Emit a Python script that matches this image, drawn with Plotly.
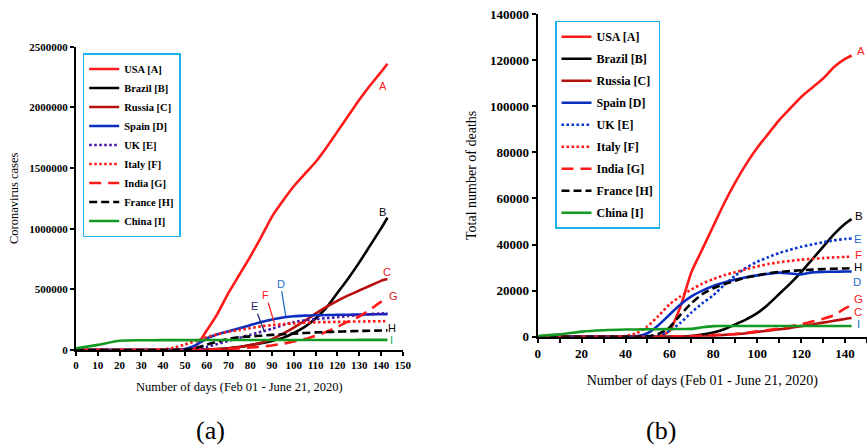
import plotly.graph_objects as go

# ---------------- data ----------------
countries = ["USA [A]", "Brazil [B]", "Russia [C]", "Spain [D]", "UK [E]",
             "Italy [F]", "India [G]", "France [H]", "China [I]"]

days = [0, 10, 20, 30, 40, 45, 50, 55, 60, 65, 70, 75, 80, 85, 90, 95,
        100, 105, 110, 115, 120, 125, 130, 135, 140, 143]

# (a) coronavirus cases
cases_usa = [0, 0, 0, 0, 0, 0, 2000, 30000, 160000, 300000, 470000, 620000, 770000, 930000,
             1100000, 1230000, 1350000, 1450000, 1550000, 1670000, 1800000, 1930000, 2060000,
             2180000, 2290000, 2360000]
cases_brazil = [0, 0, 0, 0, 0, 0, 0, 0, 3000, 8000, 15000, 25000, 40000, 55000, 75000, 100000,
                140000, 190000, 260000, 350000, 470000, 590000, 720000, 860000, 1000000, 1090000]
cases_russia = [0, 0, 0, 0, 0, 0, 0, 1000, 3000, 8000, 15000, 25000, 40000, 60000, 90000, 135000,
                185000, 240000, 300000, 355000, 405000, 450000, 490000, 530000, 570000, 585000]
cases_spain = [0, 0, 0, 0, 500, 2000, 8000, 40000, 95000, 130000, 155000, 180000, 205000, 230000,
               252000, 268000, 278000, 283000, 286000, 288000, 290000, 291000, 292000, 294000,
               295000, 296000]
cases_uk = [0, 0, 0, 0, 0, 0, 1000, 5000, 25000, 50000, 75000, 100000, 125000, 150000, 175000,
            205000, 230000, 245000, 255000, 263000, 270000, 280000, 288000, 295000, 301000, 304000]
cases_italy = [0, 0, 0, 1000, 5000, 20000, 45000, 75000, 105000, 130000, 150000, 165000, 180000,
               195000, 205000, 213000, 219000, 224000, 228000, 230000, 232000, 234000, 235000,
               236000, 237000, 238000]
cases_india = [0, 0, 0, 0, 0, 0, 0, 500, 1800, 4000, 7600, 13000, 20000, 28000, 37000, 52000,
               70000, 90000, 118000, 150000, 190000, 236000, 276000, 333000, 396000, 425000]
cases_france = [0, 0, 0, 0, 0, 0, 3000, 15000, 45000, 70000, 92000, 105000, 112000, 118000,
                125000, 130000, 135000, 140000, 145000, 148000, 151000, 154000, 157000, 159000,
                161000, 162000]
cases_china = [14000, 42000, 76000, 80000, 81000, 81000, 81500, 81500, 82000, 82000, 82300,
               82500, 82700, 82800, 82900, 83000, 83000, 83000, 83000, 83000, 83000, 83000,
               83100, 83200, 83300, 83400]

# (b) total number of deaths
deaths_usa = [0, 0, 0, 0, 0, 0, 0, 0, 2500, 13000, 28000, 38000, 48000, 58000, 67000, 75000,
              82000, 88000, 94000, 99000, 104000, 108000, 112000, 117000, 120500, 122000]
deaths_brazil = [0, 0, 0, 0, 0, 0, 0, 0, 0, 0, 300, 900, 1800, 3200, 5300, 7500, 10200, 14000,
                 18500, 23000, 28000, 33500, 39000, 44500, 49000, 51000]
deaths_russia = [0, 0, 0, 0, 0, 0, 0, 0, 0, 50, 100, 200, 400, 800, 1100, 1500, 2100, 2600, 3200,
                 3800, 4600, 5300, 6100, 6900, 7700, 8100]
deaths_spain = [0, 0, 0, 0, 0, 200, 1500, 5000, 9500, 14000, 17500, 20000, 22000, 23500, 24800,
                25800, 26600, 27300, 27800, 27400, 27000, 27900, 28100, 28200, 28300, 28300]
deaths_uk = [0, 0, 0, 0, 0, 0, 0, 500, 2500, 6000, 10500, 14500, 18000, 22500, 26500, 30000,
             32500, 34500, 36300, 37700, 39000, 40000, 41000, 41800, 42400, 42600]
deaths_italy = [0, 0, 0, 0, 300, 1500, 4500, 9000, 14000, 17500, 20500, 23000, 25000, 26700,
                28000, 29300, 30500, 31500, 32300, 32900, 33400, 33800, 34100, 34400, 34600, 34700]
deaths_india = [0, 0, 0, 0, 0, 0, 0, 0, 50, 150, 300, 500, 700, 900, 1200, 1700, 2300, 2900,
                3600, 4500, 5400, 6600, 7800, 9300, 12300, 13800]
deaths_france = [0, 0, 0, 0, 0, 0, 200, 1200, 4000, 9500, 14500, 18500, 21000, 22800, 24300,
                 25700, 26600, 27500, 28100, 28500, 28800, 29100, 29300, 29500, 29600, 29700]
deaths_china = [300, 1000, 2200, 2800, 3100, 3150, 3200, 3250, 3300, 3320, 3400, 4100, 4600,
                4630, 4630, 4630, 4630, 4630, 4634, 4634, 4634, 4634, 4634, 4634, 4634, 4634]

cases = [cases_usa, cases_brazil, cases_russia, cases_spain, cases_uk,
         cases_italy, cases_india, cases_france, cases_china]
deaths = [deaths_usa, deaths_brazil, deaths_russia, deaths_spain, deaths_uk,
          deaths_italy, deaths_india, deaths_france, deaths_china]

x_ticks_a = list(range(0, 151, 10))
x_ticks_b = list(range(0, 151, 10))
x_ticktext_b = [str(v) if v % 20 == 0 and v <= 140 else "" for v in x_ticks_b]

# end-of-curve letter labels: (letter, day, value, colour)
labels_a = [("A", 140.8, 2180000, "#ff2020"), ("B", 140.8, 1140000, "#000000"),
            ("C", 143.0, 645000, "#e02020"), ("G", 146.0, 445000, "#e02020"),
            ("H", 145.0, 185000, "#000000"), ("I", 145.0, 82000, "#00b050")]
pointers_a = [("D", 93.9, 545000, 96.3, 280000, "#1f6fd0"),
              ("E", 82.0, 360000, 86.5, 150000, "#1f2f70"),
              ("F", 87.2, 452000, 91.0, 226000, "#ff2020")]
labels_b = [("A", 147.3, 124000, "#ff2020"), ("B", 146.3, 52500, "#000000"),
            ("E", 145.9, 42300, "#1f6fd0"), ("F", 146.0, 35400, "#ff2020"),
            ("H", 146.0, 30100, "#000000"), ("D", 145.3, 23900, "#1f6fd0"),
            ("G", 146.0, 16200, "#ff2020"), ("C", 146.0, 10800, "#ff2020"),
            ("I", 146.0, 5500, "#1f6fd0")]

# ---------------- layout helpers ----------------
W, H = 867, 446


def fx(px):
    return px / W


def fy(py):
    return 1 - py / H


# ---------------- styles ----------------
colors_a = ["#ff1a1a", "#000000", "#b80f0f", "#0a2fc0", "#4a18a8",
            "#ff1a1a", "#ff1a1a", "#000000", "#139a22"]
colors_b = ["#ff1a1a", "#000000", "#b80f0f", "#0a2fc0", "#0a35d0",
            "#ff1a1a", "#ff1a1a", "#000000", "#139a22"]
dashes = ["solid", "solid", "solid", "solid", "2.6px,2.4px", "2.6px,2.4px",
          "12px,7px", "8px,4px", "solid"]
SERIF = "Liberation Serif, Times New Roman, serif"
SANS = "Liberation Sans"

fig = go.Figure()
for i, name in enumerate(countries):
    fig.add_trace(go.Scatter(
        x=days, y=cases[i], mode="lines", name=name, legendgroup=f"a{i}",
        line=dict(color=colors_a[i], width=2.6, dash=dashes[i], shape="spline", smoothing=0.6),
        xaxis="x", yaxis="y", legend="legend"))
for i, name in enumerate(countries):
    fig.add_trace(go.Scatter(
        x=days, y=deaths[i], mode="lines", name=name, legendgroup=f"b{i}",
        line=dict(color=colors_b[i], width=2.6, dash=dashes[i], shape="spline", smoothing=0.6),
        xaxis="x2", yaxis="y2", legend="legend2"))

annotations = []
for t, xv, yv, c in labels_a:
    annotations.append(dict(x=xv, y=yv, xref="x", yref="y", text=t, showarrow=False,
                            font=dict(family=SANS, size=11, color=c)))
for t, xt, yt, xe, ye, c in pointers_a:
    annotations.append(dict(x=xe, y=ye, xref="x", yref="y", ax=xt, ay=yt, axref="x", ayref="y",
                            text=t, showarrow=True, arrowhead=0, arrowwidth=1.3, arrowcolor=c,
                            standoff=0, startstandoff=0,
                            font=dict(family=SANS, size=11, color=c)))
for t, xv, yv, c in labels_b:
    annotations.append(dict(x=xv, y=yv, xref="x2", yref="y2", text=t, showarrow=False,
                            font=dict(family=SANS, size=11.5, color=c)))
for t, px in (("(a)", 210), ("(b)", 661)):
    annotations.append(dict(x=fx(px), y=fy(430), xref="paper", yref="paper", text=t,
                            xanchor="center", yanchor="middle", showarrow=False,
                            font=dict(family=SERIF, size=26, color="#000")))

axis_common = dict(showgrid=False, zeroline=False, showline=True, linecolor="#000",
                   linewidth=2, ticks="outside", tickcolor="#000", tickwidth=1.5, ticklen=4,
                   automargin=False, ticklabeloverflow="allow")

fig.update_layout(
    template="none",
    font=dict(family=SERIF, color="#000"),
    width=W, height=H, margin=dict(l=0, r=0, t=0, b=0, autoexpand=False),
    paper_bgcolor="white", plot_bgcolor="white",
    xaxis=dict(domain=[fx(76), fx(402.7)], range=[0, 150], tickvals=x_ticks_a,
               anchor="y", tickangle=0,
               tickfont=dict(family=SERIF, size=11, color="#000", weight=700),
               title=dict(text="Number of days (Feb 01 - June 21, 2020)", standoff=12,
                          font=dict(family=SERIF, size=12.5, color="#000")), **axis_common),
    yaxis=dict(domain=[fy(350), fy(46.7)], range=[0, 2500000], dtick=500000,
               tickformat="d", anchor="x",
               tickfont=dict(family=SERIF, size=11, color="#000", weight=700),
               title=dict(text="Coronavirus cases", standoff=8,
                          font=dict(family=SERIF, size=12.5, color="#000")), **axis_common),
    xaxis2=dict(domain=[fx(537.7), 1.0], range=[0, 150], tickvals=x_ticks_b,
                ticktext=x_ticktext_b, anchor="y2", tickangle=0,
                tickfont=dict(family=SERIF, size=13, color="#000", weight=700),
                title=dict(text="Number of days (Feb 01 - June 21, 2020)", standoff=15,
                           font=dict(family=SERIF, size=14, color="#000")), **axis_common),
    yaxis2=dict(domain=[fy(336.7), fy(14)], range=[0, 140000], dtick=20000,
                tickformat="d", anchor="x2",
                tickfont=dict(family=SERIF, size=13, color="#000", weight=700),
                title=dict(text="Total number of deaths", standoff=10,
                           font=dict(family=SERIF, size=14, color="#000")), **axis_common),
    legend=dict(x=fx(82.7), y=fy(53), xanchor="left", yanchor="top",
                bgcolor="white", bordercolor="#19b4ee", borderwidth=1.5,
                font=dict(family=SERIF, size=10.5, color="#000", weight=700),
                itemwidth=30, tracegroupgap=0),
    legend2=dict(x=fx(555), y=fy(20.7), xanchor="left", yanchor="top",
                 bgcolor="white", bordercolor="#19b4ee", borderwidth=1.5,
                 font=dict(family=SERIF, size=12, color="#000", weight=700),
                 itemwidth=30, tracegroupgap=3),
    annotations=annotations,
    showlegend=True,
)

fig.write_html("out.html", config={"displayModeBar": False},
               post_script="document.body.style.margin='0';document.body.style.overflow='hidden';")
